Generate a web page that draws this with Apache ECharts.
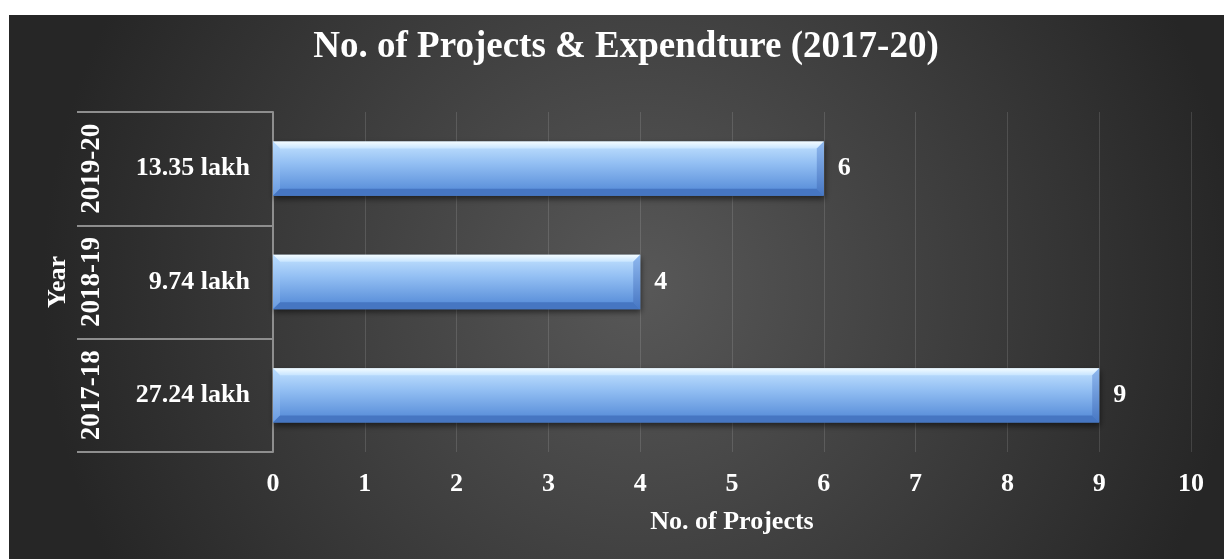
<!DOCTYPE html>
<html>
<head>
<meta charset="utf-8">
<title>No. of Projects &amp; Expendture (2017-20)</title>
<script src="https://cdn.jsdelivr.net/npm/echarts@6/dist/echarts.min.js"></script>
<style>
  html, body { margin: 0; padding: 0; background: #ffffff; }
  #chart { width: 1224px; height: 559px; }
</style>
</head>
<body>
<div id="chart"></div>
<script>
// Financial years (bottom to top on the category axis)
const years = ['2017-18', '2018-19', '2019-20'];
// Expenditure for each year, shown as the inner category level
const expenditure = ['27.24 lakh', '9.74 lakh', '13.35 lakh'];
// Number of projects per year
const projects = [9, 4, 6];

const SERIF = "'Liberation Serif', 'Times New Roman', 'DejaVu Serif', serif";
const GRID_LINE = '#8e8e8e';
const LABEL_SIZE = 26;

const chart = echarts.init(document.getElementById('chart'), null, { renderer: 'canvas' });

// Bevelled bar: body with vertical gradient plus four edge facets
function renderBar(params, api) {
  const value = api.value(0);
  const cat = api.value(1);
  const start = api.coord([0, cat]);
  const end = api.coord([value, cat]);
  const h = api.size([0, 1])[1] * 0.48;
  const x0 = start[0], x1 = end[0];
  const y0 = start[1] - h / 2, y1 = start[1] + h / 2;
  const b = 7;
  const vGrad = (stops) => new echarts.graphic.LinearGradient(0, 0, 0, 1, stops);
  return {
    type: 'group',
    children: [
      {
        type: 'rect',
        shape: { x: x0, y: y0, width: x1 - x0, height: h },
        style: {
          fill: vGrad([
            { offset: 0, color: '#c4e3ff' },
            { offset: 0.4, color: '#93bff3' },
            { offset: 1, color: '#4f86d5' }
          ]),
          shadowColor: 'rgba(0,0,0,0.55)',
          shadowBlur: 6,
          shadowOffsetX: 1,
          shadowOffsetY: 3
        }
      },
      {
        type: 'polygon',
        shape: { points: [[x0, y0], [x1, y0], [x1 - b, y0 + b], [x0 + b, y0 + b]] },
        style: { fill: vGrad([{ offset: 0, color: '#f4fcff' }, { offset: 1, color: '#c8e5ff' }]) }
      },
      {
        type: 'polygon',
        shape: { points: [[x0, y0], [x0 + b, y0 + b], [x0 + b, y1 - b], [x0, y1]] },
        style: { fill: vGrad([{ offset: 0, color: '#b9dcff' }, { offset: 1, color: '#6a9be0' }]) }
      },
      {
        type: 'polygon',
        shape: { points: [[x1, y0], [x1, y1], [x1 - b, y1 - b], [x1 - b, y0 + b]] },
        style: { fill: vGrad([{ offset: 0, color: '#8fb8ee' }, { offset: 1, color: '#4777c4' }]) }
      },
      {
        type: 'polygon',
        shape: { points: [[x0, y1], [x1, y1], [x1 - b, y1 - b], [x0 + b, y1 - b]] },
        style: { fill: '#4676c2' }
      },
      {
        type: 'text',
        x: x1 + 14,
        y: (y0 + y1) / 2,
        style: {
          text: String(value),
          fill: '#ffffff',
          fontSize: LABEL_SIZE,
          fontWeight: 'bold',
          fontFamily: SERIF,
          align: 'left',
          verticalAlign: 'middle'
        }
      }
    ]
  };
}

const option = {
  backgroundColor: 'transparent',
  animation: false,
  graphic: [
    {
      type: 'rect',
      z: -10,
      silent: true,
      shape: { x: 9, y: 15, width: 1215, height: 544 },
      style: {
        fill: new echarts.graphic.RadialGradient(0.52, 0.5, 1.1, [
          { offset: 0, color: '#585858' },
          { offset: 1, color: '#262626' }
        ])
      }
    }
  ],
  title: {
    text: 'No. of Projects & Expendture (2017-20)',
    left: 621,
    textAlign: 'center',
    top: 24,
    textStyle: {
      color: '#ffffff',
      fontSize: 37,
      fontWeight: 'bold',
      fontFamily: SERIF
    }
  },
  grid: { left: 273, right: 33, top: 112, bottom: 107, containLabel: false },
  xAxis: {
    type: 'value',
    min: 0,
    max: 10,
    interval: 1,
    name: 'No. of Projects',
    nameLocation: 'middle',
    nameGap: 57,
    nameTextStyle: { color: '#ffffff', fontSize: 26, fontWeight: 'bold', fontFamily: SERIF },
    axisLine: { show: false },
    axisTick: { show: false },
    axisLabel: { color: '#ffffff', fontSize: LABEL_SIZE, fontWeight: 'bold', fontFamily: SERIF, margin: 19 },
    splitLine: { show: true, lineStyle: { color: 'rgba(255,255,255,0.13)', width: 1 } }
  },
  yAxis: [
    {
      type: 'category',
      data: expenditure,
      position: 'left',
      axisLine: { show: true, lineStyle: { color: GRID_LINE, width: 2 } },
      axisTick: { show: true, length: 196, lineStyle: { color: GRID_LINE, width: 2 } },
      axisLabel: { color: '#ffffff', fontSize: LABEL_SIZE, fontWeight: 'bold', fontFamily: SERIF, margin: 23, interval: 0 },
      splitLine: { show: false }
    },
    {
      type: 'category',
      data: years,
      position: 'left',
      offset: 167,
      name: 'Year',
      nameLocation: 'middle',
      nameRotate: 90,
      nameGap: 34,
      nameTextStyle: { color: '#ffffff', fontSize: 26, fontWeight: 'bold', fontFamily: SERIF },
      axisLine: { show: false },
      axisTick: { show: false },
      axisLabel: {
        color: '#ffffff', fontSize: 27, fontWeight: 'bold', fontFamily: SERIF,
        rotate: 90, margin: 0, interval: 0, hideOverlap: false
      },
      splitLine: { show: false }
    }
  ],
  series: [
    {
      type: 'custom',
      yAxisIndex: 0,
      renderItem: renderBar,
      encode: { x: 0, y: 1 },
      data: projects.map((v, i) => [v, i]),
      clip: false
    }
  ]
};

chart.setOption(option);
</script>
</body>
</html>
